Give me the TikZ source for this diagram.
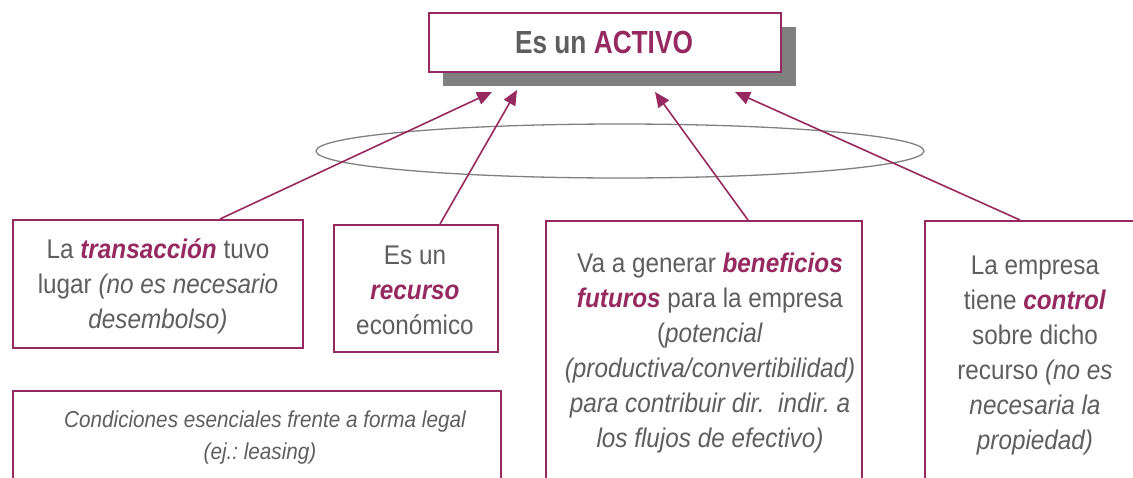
\documentclass[tikz,border=0pt]{standalone}
\usepackage{fontspec}
\setmainfont{Liberation Sans}[FakeStretch=0.9]
\newfontfamily\titlefont{Liberation Sans}[FakeStretch=0.82]
\usetikzlibrary{arrows.meta}
\frenchspacing
\definecolor{plum}{HTML}{962A60}
\definecolor{txt}{HTML}{5E5E5E}
\definecolor{shadowgrey}{HTML}{808080}
\newcommand{\hl}[1]{\textcolor{plum}{\textbf{\textit{#1}}}}
\tikzset{
  box/.style={draw=plum, line width=1.6pt, fill=white, anchor=north west, inner sep=0pt},
  body/.style={text=txt, align=center, font=\fontsize{27}{35}\selectfont, inner sep=0pt},
  link/.style={draw=plum, line width=1.6pt, -{Triangle[length=15pt,width=13pt]}},
}
\begin{document}
\begin{tikzpicture}[x=1pt,y=-1pt]
\useasboundingbox (0,0) rectangle (1133,477);
% title
\fill[shadowgrey] (443,27) rectangle (796,86);
\node[box, minimum width=352pt, minimum height=59pt] (title) at (428,12) {};
\node[text=txt, font=\titlefont\fontsize{32}{38}\selectfont\bfseries] (ttext) at (604,42) {Es un \textcolor{plum}{ACTIVO}};
% ellipse
\draw[draw=shadowgrey, line width=1.3pt] (620,151) ellipse [x radius=304, y radius=27];
% boxes
\node[box, minimum width=290pt, minimum height=128pt] (b1) at (12,219) {};
\node[box, minimum width=164pt, minimum height=127pt] (b2) at (333,224) {};
\node[box, minimum width=316pt, minimum height=270pt] (b3) at (545,220) {};
\node[box, minimum width=230pt, minimum height=270pt] (b4) at (924,220) {};
\node[box, minimum width=488pt, minimum height=100pt] (b5) at (12,390) {};
% texts
\node[body] (t1) at (158,286) {La \hl{transacción} tuvo\\lugar \textit{(no es necesario}\\\textit{desembolso)}};
\node[body] (t2) at (415,290) {Es un\\\hl{recurso}\\económico};
\node[body] (t3) at (710,353) {Va a generar \hl{beneficios}\\\hl{futuros} para la empresa\\(\textit{potencial}\\\textit{(productiva/convertibilidad)}\\\textit{para contribuir dir.\ \ indir. a}\\\textit{los flujos de efectivo)}};
\node[body] (t4) at (1035,356) {La empresa\\tiene \hl{control}\\sobre dicho\\recurso \textit{(no es}\\\textit{necesaria la}\\\textit{propiedad)}};
\node[body, font=\fontsize{23}{32}\selectfont\itshape] (t5) at (260,438) {\hspace*{10pt}Condiciones esenciales frente a forma legal\\(ej.: leasing)};
% connectors
\coordinate (a1) at (492,92);
\coordinate (a2) at (517,90);
\coordinate (a3) at (655,92);
\coordinate (a4) at (735,92);
\draw[link] (b1.north west) ++(208,0) coordinate (s1) -- (a1);
\draw[link] (b2.north west) ++(107,0) coordinate (s2) -- (a2);
\draw[link] (b3.north west) ++(203,0) coordinate (s3) -- (a3);
\draw[link] (b4.north west) ++(96,0) coordinate (s4) -- (a4);
\end{tikzpicture}
\end{document}
